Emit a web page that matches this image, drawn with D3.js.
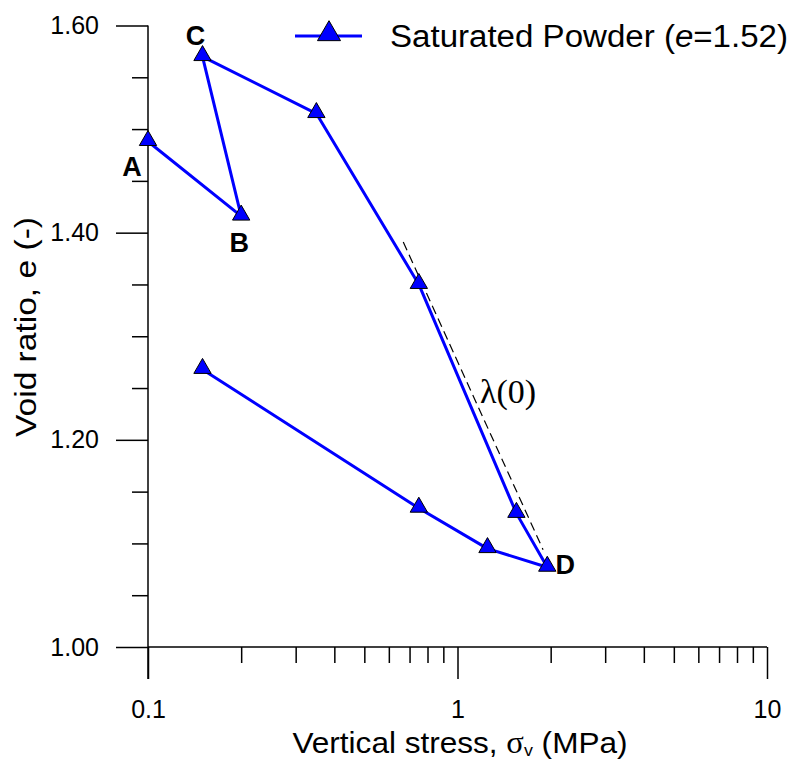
<!DOCTYPE html>
<html>
<head>
    <meta charset="utf-8">
    <title>Void ratio vs vertical stress</title>
    <script src="https://d3js.org/d3.v7.min.js"></script>
    <style>
        body { margin: 0; background: #fff; }
        svg { font-family: "Liberation Sans", Arial, sans-serif; }
    </style>
</head>
<body>
    <svg width="796" height="760"></svg>
    <script>
        // data
        var stress = [0.1, 0.2, 0.15, 0.35, 0.75, 1.55, 1.95, 1.25, 0.75, 0.15];
        var voidRatio = [1.488, 1.416, 1.570, 1.515, 1.350, 1.129, 1.077, 1.095, 1.134, 1.268];
        var pointLabels = [
            { i: 0, text: "A" }, { i: 1, text: "B" }, { i: 2, text: "C" }, { i: 6, text: "D" }
        ];
        var lambdaLine = [[0.668, 1.391], [1.89, 1.094]];
        var yMajor = [1.00, 1.20, 1.40, 1.60];
        var yMinor = [1.05, 1.10, 1.15, 1.25, 1.30, 1.35, 1.45, 1.50, 1.55];
        var xMajor = [0.1, 1, 10];
        var xMinor = [0.2, 0.3, 0.4, 0.5, 0.6, 0.7, 0.8, 0.9, 2, 3, 4, 5, 6, 7, 8, 9];

        var pts = stress.map(function (s, i) { return { s: s, e: voidRatio[i] }; });

        var svg = d3.select("svg");
        var x = d3.scaleLog().domain([0.1, 10]).range([148, 767]);
        var y = d3.scaleLinear().domain([1.0, 1.6]).range([647, 25.5]);

        // y axis
        var yAx = svg.append("g").attr("transform", "translate(148,0)");
        yAx.call(d3.axisLeft(y).tickValues(yMajor).tickSize(32).tickSizeOuter(0)
            .tickPadding(17).tickFormat(d3.format(".2f")));
        var yMin = svg.append("g").attr("transform", "translate(148,0)");
        yMin.call(d3.axisLeft(y).tickValues(yMinor).tickSize(16).tickSizeOuter(0).tickFormat(""));
        yMin.select(".domain").remove();
        yAx.select(".domain").remove();

        // x axis
        var xAx = svg.append("g").attr("transform", "translate(0,647)");
        xAx.call(d3.axisBottom(x).tickValues(xMajor).tickSize(32).tickSizeOuter(0)
            .tickPadding(21).tickFormat(function (d) { return d3.format("~g")(d); }));
        var xMin = svg.append("g").attr("transform", "translate(0,647)");
        xMin.call(d3.axisBottom(x).tickValues(xMinor).tickSize(16).tickSizeOuter(0).tickFormat(""));
        xMin.select(".domain").remove();
        xAx.select(".domain").remove();

        svg.append("line").attr("x1", 148).attr("x2", 148).attr("y1", y(1.6)).attr("y2", 679)
            .attr("stroke", "#000").attr("stroke-width", 1.5);
        svg.append("line").attr("x1", 148).attr("x2", x(10)).attr("y1", 647).attr("y2", 647)
            .attr("stroke", "#000").attr("stroke-width", 1.5);

        svg.selectAll(".tick line").attr("stroke", "#000").attr("stroke-width", 1.5);
        svg.selectAll(".tick text").attr("font-size", 25).attr("fill", "#000")
            .attr("font-family", "Liberation Sans, Arial, sans-serif");

        // axis titles
        var xt = svg.append("text").attr("x", 460).attr("y", 753).attr("text-anchor", "middle")
            .attr("font-size", 30).attr("textLength", 335).attr("lengthAdjust", "spacingAndGlyphs");
        xt.append("tspan").text("Vertical stress, ");
        xt.append("tspan").attr("font-family", "Liberation Serif, serif").attr("font-size", 31).text("σ");
        xt.append("tspan").attr("font-size", 17).attr("dy", 3).text("v");
        xt.append("tspan").attr("dy", -3).text(" (MPa)");

        svg.append("text").attr("transform", "translate(36,327) rotate(-90)")
            .attr("text-anchor", "middle").attr("font-size", 30)
            .attr("textLength", 220).attr("lengthAdjust", "spacingAndGlyphs")
            .text("Void ratio, e (-)");

        // lambda(0) dashed line
        svg.append("line")
            .attr("x1", x(lambdaLine[0][0])).attr("y1", y(lambdaLine[0][1]))
            .attr("x2", x(lambdaLine[1][0])).attr("y2", y(lambdaLine[1][1]))
            .attr("stroke", "#000").attr("stroke-width", 1.2).attr("stroke-dasharray", "9,5");
        svg.append("text").attr("x", 480).attr("y", 403).attr("font-size", 34)
            .attr("font-family", "Liberation Serif, serif").text("λ(0)");

        // data line
        var line = d3.line().x(function (d) { return x(d.s); }).y(function (d) { return y(d.e); });
        svg.append("path").datum(pts).attr("d", line)
            .attr("fill", "none").attr("stroke", "#0000ff").attr("stroke-width", 3)
            .attr("stroke-linejoin", "round");

        var tri = d3.symbol().type(d3.symbolTriangle).size(130);
        svg.selectAll(".mk").data(pts).enter().append("path")
            .attr("class", "mk")
            .attr("d", tri)
            .attr("transform", function (d) { return "translate(" + x(d.s) + "," + (y(d.e) - 1) + ")"; })
            .attr("fill", "#0000ff").attr("stroke", "#000").attr("stroke-width", 1);

        // point labels
        var offs = { A: [-16, 34], B: [-2, 36], C: [-7, -12], D: [18, 7] };
        svg.selectAll(".pl").data(pointLabels).enter().append("text")
            .attr("class", "pl")
            .attr("x", function (d) { return x(stress[d.i]) + offs[d.text][0]; })
            .attr("y", function (d) { return y(voidRatio[d.i]) + offs[d.text][1]; })
            .attr("text-anchor", "middle").attr("font-size", 27).attr("font-weight", "bold")
            .text(function (d) { return d.text; });

        // legend
        var lg = svg.append("g");
        lg.append("line").attr("x1", 295).attr("x2", 362).attr("y1", 36).attr("y2", 36)
            .attr("stroke", "#0000ff").attr("stroke-width", 3);
        lg.append("path").attr("d", d3.symbol().type(d3.symbolTriangle).size(230))
            .attr("transform", "translate(329,34)")
            .attr("fill", "#0000ff").attr("stroke", "#000").attr("stroke-width", 1);
        var lt = lg.append("text").attr("x", 390).attr("y", 47).attr("font-size", 31)
            .attr("textLength", 398).attr("lengthAdjust", "spacingAndGlyphs");
        lt.append("tspan").text("Saturated Powder (");
        lt.append("tspan").attr("font-style", "italic").text("e");
        lt.append("tspan").text("=1.52)");
    </script>
</body>
</html>
